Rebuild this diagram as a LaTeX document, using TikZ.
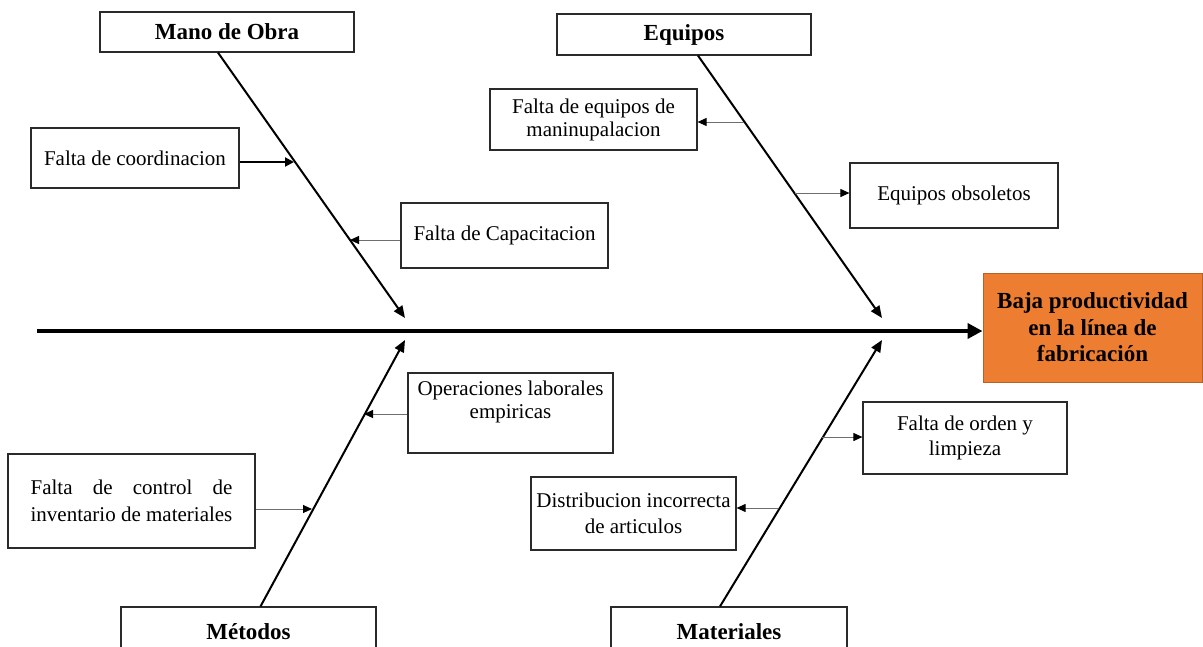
\documentclass[tikz,border=0pt]{standalone}
\usepackage{fontspec}
\setmainfont{Liberation Serif}
\usetikzlibrary{arrows.meta,calc}
\definecolor{effectfill}{HTML}{ED7D31}
\definecolor{effectdraw}{HTML}{B4612A}
\definecolor{boxline}{HTML}{2A2A2A}
\definecolor{twigline}{HTML}{6E6E6E}
\newlength\ctrlw
\begin{document}
\begin{tikzpicture}[x=1pt,y=-1pt,
  cause/.style={draw=boxline, line width=1.2pt, fill=white, inner sep=0pt, align=center,
    font=\fontsize{21}{24}\selectfont},
  category/.style={cause, font=\bfseries\fontsize{23}{26}\selectfont},
  effect/.style={draw=effectdraw, line width=1pt, fill=effectfill, inner sep=0pt, align=center,
    font=\bfseries\fontsize{23}{26.5}\selectfont},
  spine/.style={line width=4.5pt, -{Triangle[length=15pt,width=15pt]}},
  bone/.style={line width=2pt, -{Triangle[length=12pt,width=10pt]}},
  twig/.style={draw=twigline, line width=1pt, -{Triangle[length=9pt,width=8pt,color=black]}},
  boldtwig/.style={line width=2pt, -{Triangle[length=9pt,width=9pt]}},
]
\useasboundingbox (0,0) rectangle (1203,646);
\clip (0,0) rectangle (1203,646);

% effect
\node[effect, minimum width=219pt, minimum height=109pt] (baja) at (1092.5,327.5)
  {Baja productividad\\en la línea de\\fabricación};

% categories
\node[category, minimum width=254pt, minimum height=40pt] (mo)  at (227,32)    {Mano de Obra};
\node[category, minimum width=254pt, minimum height=41pt] (eq)  at (684,34.5)  {Equipos};
\node[category, minimum width=255pt, minimum height=50pt] (met) at (248.5,632) {Métodos};
\node[category, minimum width=236pt, minimum height=50pt] (mat) at (729,632)   {Materiales};

% causes
\node[cause, minimum width=208pt, minimum height=60pt] (fcoord) at (135,158) {Falta de coordinacion};
\node[cause, minimum width=207pt, minimum height=65pt] (fcap)   at (504.5,235.5) {Falta de Capacitacion};
\node[cause, minimum width=207pt, minimum height=61pt, font=\fontsize{21}{23}\selectfont] (feq) at (593.5,119.5)
  {Falta de equipos de\\maninupalacion};
\node[cause, minimum width=208pt, minimum height=65pt] (fobs)   at (954,195.5) {Equipos obsoletos};
\node[cause, font=\fontsize{21}{23}\selectfont] (oper) at (510.5,413)
  {\parbox[c][80pt][t]{205pt}{\centering\vspace*{8pt}Operaciones laborales\\empiricas}};
\node[cause, minimum width=247pt, minimum height=94pt, font=\fontsize{21}{27}\selectfont] (fctrl) at (131.5,501)
  {\settowidth\ctrlw{inventario de materiales}\makebox[\ctrlw][s]{Falta de control de}\\inventario de materiales};
\node[cause, minimum width=204pt, minimum height=72pt, font=\fontsize{21}{25}\selectfont] (forden) at (965,438)
  {Falta de orden y\\limpieza};
\node[cause, minimum width=205pt, minimum height=73pt, font=\fontsize{21}{26}\selectfont] (dist) at (633.5,513.5)
  {Distribucion incorrecta\\de articulos};

% spine
\coordinate (tail) at (37,331);
\draw[spine] (tail) -- (tail -| baja.west);

% bone ends on the spine
\coordinate (moEnd)  at (405,318);
\coordinate (eqEnd)  at (882,318);
\coordinate (metEnd) at (405,340);
\coordinate (matEnd) at (882,340);

\draw[bone] ([xshift=-9pt]mo.south)   -- (moEnd);
\draw[bone] ([xshift=14pt]eq.south)   -- (eqEnd);
\draw[bone] ([xshift=12pt]met.north)  -- (metEnd);
\draw[bone] ([xshift=-9pt]mat.north)  -- (matEnd);

% points on the bones where the causes attach
\coordinate (pCoord) at (294,162);
\coordinate (pCap)   at (350,240);
\coordinate (pEq)    at (744,122);
\coordinate (pObs)   at (795,193);
\coordinate (pOper)  at (364,414);
\coordinate (pCtrl)  at (312,509);
\coordinate (pOrden) at (822,437);
\coordinate (pDist)  at (778,508);

\draw[boldtwig] (fcoord.east |- pCoord) -- (pCoord);
\draw[twig] (fcap.west |- pCap) -- (pCap);
\draw[twig] (pEq) -- (pEq -| feq.east);
\draw[twig] (pObs) -- (pObs -| fobs.west);
\draw[twig] (oper.west |- pOper) -- (pOper);
\draw[twig] (fctrl.east |- pCtrl) -- (pCtrl);
\draw[twig] (pOrden) -- (pOrden -| forden.west);
\draw[twig] (pDist) -- (pDist -| dist.east);
\end{tikzpicture}
\end{document}
